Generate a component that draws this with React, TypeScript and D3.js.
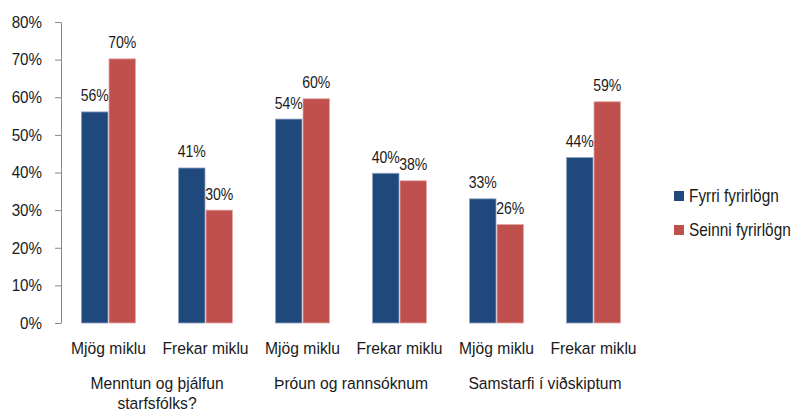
import React, { useEffect, useRef } from 'react';
import * as d3 from 'd3';

// flokkar (x-ás)
const categories = ['Mjög miklu', 'Frekar miklu', 'Mjög miklu', 'Frekar miklu', 'Mjög miklu', 'Frekar miklu'];
const groups = [['Menntun og þjálfun', 'starfsfólks?'], ['Þróun og rannsóknum'], ['Samstarfi í viðskiptum']];
const seriesNames = ['Fyrri fyrirlögn', 'Seinni fyrirlögn'];
const fyrri = [56.1, 41.2, 54.2, 39.8, 33.0, 44.0];
const seinni = [70.2, 30.0, 59.6, 37.8, 26.2, 58.8];
const yTicks = [0, 10, 20, 30, 40, 50, 60, 70, 80];

const colors = ['#1F497D', '#C0504D'];
const edge = ['#8EA4C4', '#E5A9A8'];
const font = 'Liberation Sans, Arial, sans-serif';

// texti með smá láréttri þjöppun eins og í Excel
const txt = (parent: any, x: number, y: number, s: string, size: number, sx: number, anchor = 'middle') =>
  parent.append('text')
    .attr('transform', `translate(${x},${y}) scale(${sx},1)`)
    .attr('text-anchor', anchor).attr('font-size', size).attr('font-family', font).attr('fill', '#1a1a1a')
    .text(s);

const App = () => {
  const ref = useRef<SVGSVGElement>(null);

  useEffect(() => {
    const svg = d3.select(ref.current);
    svg.selectAll('*').remove();

    const y = d3.scaleLinear().domain([0, 80]).range([323, 22]);
    const idx = categories.map((_, i) => String(i));
    const x = d3.scaleBand().domain(idx).range([60, 642]).paddingInner(0.433).paddingOuter(0.2165);
    const x1 = d3.scaleBand().domain(seriesNames).range([0, x.bandwidth()]);

    // y-ás
    const yAxis = svg.append('g').attr('transform', 'translate(61,0)')
      .call(d3.axisLeft(y).tickValues(yTicks).tickSize(6).tickSizeOuter(0).tickFormat(d => d + '%'));
    yAxis.select('.domain').attr('stroke', '#868686');
    yAxis.selectAll('.tick line').attr('stroke', '#868686');
    yAxis.selectAll('.tick text').attr('x', null).attr('transform', 'translate(-19,0) scale(0.92,1)')
      .attr('font-size', 16.5).attr('font-family', font).attr('fill', '#1a1a1a');

    const data = [fyrri, seinni];
    const g = svg.append('g');
    data.forEach((vals, s) => {
      vals.forEach((v, i) => {
        const bx = (x(String(i)) as number) + (x1(seriesNames[s]) as number);
        g.append('rect')
          .attr('x', bx + 0.5).attr('y', y(v))
          .attr('width', x1.bandwidth() - 1).attr('height', y(0) - y(v))
          .attr('fill', colors[s]).attr('stroke', edge[s]).attr('stroke-width', 0.8);
        txt(g, bx + x1.bandwidth() / 2, y(v) - 10.5, Math.round(v) + '%', 16, 0.88);
      });
    });

    // flokkamerki
    categories.forEach((c, i) => {
      txt(svg, (x(String(i)) as number) + x.bandwidth() / 2, 354, c, 16.5, 0.95);
    });
    groups.forEach((lines, gi) => {
      const cx = ((x(String(gi * 2)) as number) + (x(String(gi * 2 + 1)) as number) + x.bandwidth()) / 2;
      lines.forEach((l, li) => txt(svg, cx, 389 + li * 20, l, 16.5, 0.95));
    });

    // skýringar
    seriesNames.forEach((n, i) => {
      svg.append('rect').attr('x', 674).attr('y', 191 + i * 34).attr('width', 10).attr('height', 10).attr('fill', colors[i]);
      txt(svg, 689, 202 + i * 34, n, 17.5, 0.88, 'start');
    });
  }, []);

  return (
    <svg ref={ref} width={795} height={411} style={{ position: 'absolute', left: 0, top: 0, background: '#fff' }} />
  );
};

export default App;
